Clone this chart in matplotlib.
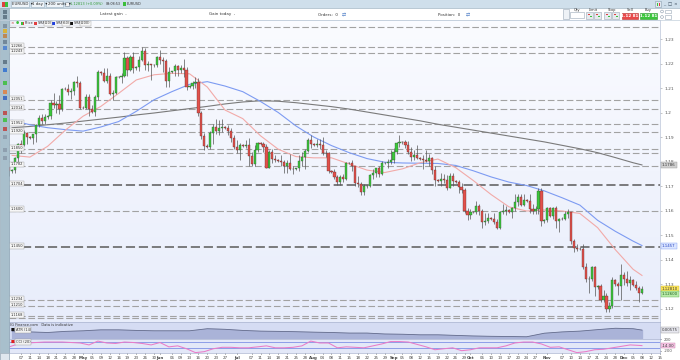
import numpy as np
import pandas as pd
import matplotlib
matplotlib.use("Agg")
import matplotlib.pyplot as plt
import matplotlib.transforms as mtransforms
from matplotlib.patches import Rectangle, Circle
from matplotlib.colors import LinearSegmentedColormap

plt.rcParams['font.family'] = ['DejaVu Sans']

W, H = 680, 360

# ---- EUR/USD daily candles (IG sessions Sun-Fri), 2 Apr - 8 Dec 2021 ----
opens = [1.1778,
         1.1761, 1.1765, 1.1813, 1.1873, 1.1869, 1.1915,
         1.1900, 1.1895, 1.1911, 1.1947, 1.1979, 1.1966,
         1.1983, 1.1985, 1.2037, 1.2032, 1.2036, 1.2013,
         1.2097, 1.2095, 1.2083, 1.2088, 1.2126, 1.2122,
         1.2020, 1.2018, 1.2062, 1.2014, 1.2004, 1.2065,
         1.2165, 1.2160, 1.2130, 1.2149, 1.2075, 1.2080,
         1.2145, 1.2143, 1.2150, 1.2224, 1.2175, 1.2227,
         1.2180, 1.2185, 1.2216, 1.2250, 1.2192, 1.2196,
         1.2193, 1.2195, 1.2227, 1.2213, 1.2209, 1.2127,
         1.2165, 1.2168, 1.2191, 1.2172, 1.2180, 1.2173,
         1.2105, 1.2108, 1.2121, 1.2124, 1.1998, 1.1906,
         1.1865, 1.1860, 1.1917, 1.1940, 1.1926, 1.1935,
         1.1940, 1.1938, 1.1925, 1.1895, 1.1858, 1.1848,
         1.1866, 1.1862, 1.1866, 1.1823, 1.1790, 1.1846,
         1.1875, 1.1872, 1.1860, 1.1775, 1.1837, 1.1812,
         1.1806, 1.1803, 1.1800, 1.1780, 1.1794, 1.1771,
         1.1770, 1.1772, 1.1801, 1.1818, 1.1843, 1.1888,
         1.1871, 1.1868, 1.1872, 1.1867, 1.1835, 1.1833,
         1.1761, 1.1758, 1.1737, 1.1718, 1.1738, 1.1728,
         1.1795, 1.1792, 1.1780, 1.1712, 1.1708, 1.1676,
         1.1698, 1.1700, 1.1745, 1.1755, 1.1772, 1.1750,
         1.1793, 1.1795, 1.1797, 1.1807, 1.1837, 1.1876,
         1.1880, 1.1878, 1.1869, 1.1838, 1.1819, 1.1826,
         1.1813, 1.1810, 1.1806, 1.1802, 1.1813, 1.1765,
         1.1726, 1.1722, 1.1727, 1.1724, 1.1690, 1.1741,
         1.1720, 1.1718, 1.1695, 1.1683, 1.1597, 1.1580,
         1.1595, 1.1592, 1.1620, 1.1598, 1.1553, 1.1556,
         1.1569, 1.1566, 1.1552, 1.1528, 1.1593, 1.1598,
         1.1601, 1.1595, 1.1609, 1.1634, 1.1654, 1.1623,
         1.1643, 1.1640, 1.1608, 1.1600, 1.1605, 1.1679,
         1.1558, 1.1560, 1.1609, 1.1579, 1.1611, 1.1556,
         1.1567, 1.1565, 1.1587, 1.1592, 1.1477, 1.1446,
         1.1444, 1.1442, 1.1368, 1.1320, 1.1321, 1.1370,
         1.1289, 1.1290, 1.1236, 1.1249, 1.1197, 1.1209,
         1.1317, 1.1298, 1.1292, 1.1337, 1.1320, 1.1303,
         1.1316, 1.1295, 1.1284, 1.1265]
highs = [1.1786,
         1.1770, 1.1820, 1.1877, 1.1887, 1.1927, 1.1920,
         1.1905, 1.1914, 1.1955, 1.1990, 1.1994, 1.1994,
         1.1990, 1.2050, 1.2080, 1.2048, 1.2070, 1.2100,
         1.2105, 1.2117, 1.2100, 1.2130, 1.2150, 1.2128,
         1.2025, 1.2075, 1.2075, 1.2030, 1.2070, 1.2173,
         1.2170, 1.2180, 1.2181, 1.2160, 1.2090, 1.2150,
         1.2150, 1.2160, 1.2245, 1.2230, 1.2236, 1.2245,
         1.2190, 1.2230, 1.2266, 1.2262, 1.2210, 1.2200,
         1.2200, 1.2230, 1.2254, 1.2225, 1.2218, 1.2185,
         1.2170, 1.2200, 1.2195, 1.2192, 1.2218, 1.2184,
         1.2112, 1.2130, 1.2144, 1.2140, 1.2005, 1.1915,
         1.1870, 1.1923, 1.1955, 1.1975, 1.1968, 1.1975,
         1.1945, 1.1951, 1.1935, 1.1910, 1.1887, 1.1877,
         1.1870, 1.1888, 1.1895, 1.1840, 1.1868, 1.1880,
         1.1880, 1.1880, 1.1870, 1.1848, 1.1850, 1.1825,
         1.1810, 1.1825, 1.1807, 1.1805, 1.1830, 1.1780,
         1.1775, 1.1825, 1.1840, 1.1850, 1.1895, 1.1909,
         1.1875, 1.1893, 1.1893, 1.1900, 1.1846, 1.1840,
         1.1765, 1.1770, 1.1745, 1.1745, 1.1750, 1.1800,
         1.1800, 1.1805, 1.1782, 1.1740, 1.1715, 1.1710,
         1.1705, 1.1750, 1.1770, 1.1775, 1.1780, 1.1802,
         1.1798, 1.1810, 1.1845, 1.1857, 1.1880, 1.1909,
         1.1885, 1.1886, 1.1882, 1.1858, 1.1845, 1.1867,
         1.1818, 1.1825, 1.1845, 1.1830, 1.1820, 1.1780,
         1.1730, 1.1755, 1.1750, 1.1745, 1.1752, 1.1752,
         1.1725, 1.1724, 1.1712, 1.1693, 1.1610, 1.1608,
         1.1600, 1.1640, 1.1625, 1.1605, 1.1590, 1.1588,
         1.1575, 1.1590, 1.1565, 1.1600, 1.1625, 1.1620,
         1.1605, 1.1615, 1.1668, 1.1666, 1.1667, 1.1666,
         1.1648, 1.1668, 1.1625, 1.1620, 1.1692, 1.1690,
         1.1565, 1.1616, 1.1613, 1.1615, 1.1617, 1.1570,
         1.1572, 1.1599, 1.1608, 1.1595, 1.1483, 1.1464,
         1.1450, 1.1464, 1.1386, 1.1332, 1.1373, 1.1374,
         1.1295, 1.1302, 1.1275, 1.1265, 1.1226, 1.1327,
         1.1320, 1.1307, 1.1383, 1.1351, 1.1353, 1.1334,
         1.1320, 1.1311, 1.1292, 1.1290]
lows = [1.1740,
        1.1755, 1.1755, 1.1795, 1.1835, 1.1864, 1.1870,
        1.1890, 1.1873, 1.1878, 1.1940, 1.1955, 1.1955,
        1.1975, 1.1975, 1.2020, 1.2000, 1.1995, 1.2008,
        1.2090, 1.2070, 1.2055, 1.2070, 1.2105, 1.2015,
        1.2015, 1.2015, 1.1985, 1.1998, 1.1986, 1.2052,
        1.2155, 1.2125, 1.2120, 1.2070, 1.2052, 1.2075,
        1.2140, 1.2120, 1.2145, 1.2150, 1.2170, 1.2160,
        1.2175, 1.2170, 1.2210, 1.2175, 1.2170, 1.2133,
        1.2185, 1.2185, 1.2200, 1.2165, 1.2103, 1.2105,
        1.2160, 1.2150, 1.2150, 1.2160, 1.2144, 1.2093,
        1.2100, 1.2095, 1.2100, 1.1985, 1.1892, 1.1847,
        1.1855, 1.1850, 1.1870, 1.1914, 1.1910, 1.1920,
        1.1932, 1.1908, 1.1878, 1.1850, 1.1835, 1.1807,
        1.1858, 1.1854, 1.1782, 1.1782, 1.1781, 1.1838,
        1.1868, 1.1838, 1.1772, 1.1772, 1.1795, 1.1797,
        1.1800, 1.1780, 1.1755, 1.1752, 1.1765, 1.1750,
        1.1765, 1.1760, 1.1783, 1.1770, 1.1840, 1.1854,
        1.1865, 1.1860, 1.1850, 1.1825, 1.1820, 1.1752,
        1.1755, 1.1730, 1.1706, 1.1705, 1.1715, 1.1725,
        1.1788, 1.1760, 1.1700, 1.1695, 1.1665, 1.1664,
        1.1692, 1.1695, 1.1730, 1.1735, 1.1735, 1.1745,
        1.1788, 1.1775, 1.1790, 1.1795, 1.1830, 1.1860,
        1.1872, 1.1855, 1.1830, 1.1802, 1.1805, 1.1810,
        1.1805, 1.1770, 1.1800, 1.1780, 1.1750, 1.1700,
        1.1715, 1.1700, 1.1714, 1.1685, 1.1690, 1.1700,
        1.1712, 1.1670, 1.1670, 1.1590, 1.1562, 1.1565,
        1.1588, 1.1585, 1.1580, 1.1530, 1.1540, 1.1550,
        1.1562, 1.1545, 1.1524, 1.1525, 1.1585, 1.1580,
        1.1590, 1.1570, 1.1600, 1.1620, 1.1618, 1.1620,
        1.1635, 1.1590, 1.1585, 1.1585, 1.1585, 1.1535,
        1.1550, 1.1555, 1.1575, 1.1565, 1.1530, 1.1513,
        1.1560, 1.1560, 1.1570, 1.1465, 1.1432, 1.1433,
        1.1438, 1.1362, 1.1309, 1.1264, 1.1313, 1.1250,
        1.1280, 1.1226, 1.1225, 1.1186, 1.1187, 1.1203,
        1.1290, 1.1256, 1.1235, 1.1297, 1.1292, 1.1275,
        1.1290, 1.1277, 1.1227, 1.1260]
closes = [1.1761,
          1.1765, 1.1813, 1.1873, 1.1869, 1.1915, 1.1900,
          1.1895, 1.1911, 1.1947, 1.1979, 1.1966, 1.1983,
          1.1985, 1.2037, 1.2032, 1.2036, 1.2013, 1.2097,
          1.2095, 1.2083, 1.2088, 1.2126, 1.2122, 1.2020,
          1.2018, 1.2062, 1.2014, 1.2004, 1.2065, 1.2165,
          1.2160, 1.2130, 1.2149, 1.2075, 1.2080, 1.2145,
          1.2143, 1.2150, 1.2224, 1.2175, 1.2227, 1.2180,
          1.2185, 1.2216, 1.2250, 1.2192, 1.2196, 1.2193,
          1.2195, 1.2227, 1.2213, 1.2209, 1.2127, 1.2165,
          1.2168, 1.2191, 1.2172, 1.2180, 1.2173, 1.2105,
          1.2108, 1.2121, 1.2124, 1.1998, 1.1906, 1.1865,
          1.1860, 1.1917, 1.1940, 1.1926, 1.1935, 1.1940,
          1.1938, 1.1925, 1.1895, 1.1858, 1.1848, 1.1866,
          1.1862, 1.1866, 1.1823, 1.1790, 1.1846, 1.1875,
          1.1872, 1.1860, 1.1775, 1.1837, 1.1812, 1.1806,
          1.1803, 1.1800, 1.1780, 1.1794, 1.1771, 1.1770,
          1.1772, 1.1801, 1.1818, 1.1843, 1.1888, 1.1871,
          1.1868, 1.1872, 1.1867, 1.1835, 1.1833, 1.1761,
          1.1758, 1.1737, 1.1718, 1.1738, 1.1728, 1.1795,
          1.1792, 1.1780, 1.1712, 1.1708, 1.1676, 1.1698,
          1.1700, 1.1745, 1.1755, 1.1772, 1.1750, 1.1793,
          1.1795, 1.1797, 1.1807, 1.1837, 1.1876, 1.1880,
          1.1878, 1.1869, 1.1838, 1.1819, 1.1826, 1.1813,
          1.1810, 1.1806, 1.1802, 1.1813, 1.1765, 1.1726,
          1.1722, 1.1727, 1.1724, 1.1690, 1.1741, 1.1720,
          1.1718, 1.1695, 1.1683, 1.1597, 1.1580, 1.1595,
          1.1592, 1.1620, 1.1598, 1.1553, 1.1556, 1.1569,
          1.1566, 1.1552, 1.1528, 1.1593, 1.1598, 1.1601,
          1.1595, 1.1609, 1.1634, 1.1654, 1.1623, 1.1643,
          1.1640, 1.1608, 1.1600, 1.1605, 1.1679, 1.1558,
          1.1560, 1.1609, 1.1579, 1.1611, 1.1556, 1.1567,
          1.1565, 1.1587, 1.1592, 1.1477, 1.1446, 1.1444,
          1.1442, 1.1368, 1.1320, 1.1321, 1.1370, 1.1289,
          1.1290, 1.1236, 1.1249, 1.1197, 1.1209, 1.1317,
          1.1298, 1.1292, 1.1337, 1.1320, 1.1303, 1.1316,
          1.1295, 1.1284, 1.1265, 1.1281]

# moving averages read at every Sunday + last bar
sma20 = [1.1825, 1.1818, 1.1862, 1.1928, 1.1985, 1.2025, 1.2078, 1.2133, 1.2154, 1.2160,
         1.2158, 1.2104, 1.2010, 1.1975, 1.1905, 1.1850, 1.1820, 1.1815, 1.1815, 1.1790,
         1.1765, 1.1755, 1.1770, 1.1795, 1.1810, 1.1775, 1.1722, 1.1665, 1.1615, 1.1598,
         1.1602, 1.1598, 1.1588, 1.1530, 1.1440, 1.1360, 1.1335]
sma50 = [1.1968, 1.1950, 1.1938, 1.1930, 1.1924, 1.1941, 1.1963, 1.2005, 1.2052, 1.2085,
         1.2115, 1.2126, 1.2108, 1.2085, 1.2045, 1.2000, 1.1945, 1.1900, 1.1865, 1.1836,
         1.1812, 1.1797, 1.1794, 1.1793, 1.1792, 1.1784, 1.1762, 1.1737, 1.1716, 1.1702,
         1.1680, 1.1652, 1.1622, 1.1560, 1.1515, 1.1475, 1.1457]
sma200 = [1.1938, 1.1943, 1.1950, 1.1957, 1.1965, 1.1973, 1.1981, 1.1990, 1.1998, 1.2007,
          1.2016, 1.2025, 1.2035, 1.2043, 1.2048, 1.2046, 1.2040, 1.2032, 1.2024, 1.2014,
          1.2002, 1.1990, 1.1978, 1.1966, 1.1952, 1.1940, 1.1928, 1.1916, 1.1904, 1.1892,
          1.1880, 1.1866, 1.1852, 1.1836, 1.1816, 1.1795, 1.1786]
atr14 = [0.00553, 0.00531, 0.00517, 0.00544, 0.00558, 0.00581, 0.00581, 0.00567, 0.00558, 0.00558,
         0.00558, 0.00608, 0.00594, 0.00567, 0.00550, 0.00544, 0.00536, 0.00525, 0.00517, 0.00503,
         0.00503, 0.00481, 0.00475, 0.00461, 0.00461, 0.00447, 0.00433, 0.00425, 0.00420, 0.00414,
         0.00500, 0.00531, 0.00550, 0.00586, 0.00619, 0.00608, 0.00575]
# CCI(20) read every third bar + last bar
cci20 = [-57, 43, 77, 93, 110, 110, 110, 93, 77, 10,
         143, 77, 60, 110, 93, 60, 10, 93, -57, -23,
         -123, -257, -223, -123, -73, -73, -90, -90, -57, -23,
         -90, -90, -73, -23, 143, 77, 77, -90, -57, -73,
         -90, -23, 43, 127, 127, 110, 27, -57, -157, -123,
         -90, -190, -157, -90, -90, -90, -23, 77, 110, 110,
         43, -73, -57, -157, -257, -223, -157, -140, -90, -40,
         10, -7, -14]

# support / resistance levels drawn on the chart
levels = [1.2349, 1.2266, 1.2243, 1.2051, 1.2014, 1.1952, 1.1920, 1.1850, 1.1836,
          1.1782, 1.1704, 1.1600, 1.1450, 1.1234, 1.1210, 1.1168, 1.1160]
labelledLevels = [1.2266, 1.2243, 1.2051, 1.2014, 1.1952, 1.1920, 1.1850, 1.1782,
                  1.1704, 1.1600, 1.1450, 1.1234, 1.1210, 1.1168]
darkLevels = [1.1704, 1.1450]
priceTicks = [1.12, 1.13, 1.14, 1.15, 1.16, 1.17, 1.18, 1.19, 1.20, 1.21, 1.22, 1.23]

# ---- positions ----
allDays = pd.date_range("2021-04-02", "2021-12-15", freq="D")
barDates = allDays[allDays.dayofweek != 5]
barX = np.arange(len(closes))
maDates = pd.date_range("2021-04-04", "2021-12-05", freq="7D").append(pd.DatetimeIndex(["2021-12-08"]))
maX = barDates.get_indexer(maDates)
cciX = np.array(list(range(0, len(closes) - 1, 3)) + [len(closes) - 1])

XLIM = (-0.06, 220.1)

fig = plt.figure(figsize=(W / 100, H / 100), dpi=100)
fig.patch.set_facecolor('white')


def px_axes(x0, y0, x1, y1):
    return fig.add_axes([x0 / W, 1 - y1 / H, (x1 - x0) / W, (y1 - y0) / H])


# background gradient of the price pane
bg = px_axes(9, 20, 660, 322)
bgmap = LinearSegmentedColormap.from_list('bg', ['#fafbff', '#e8edfb'])
bg.imshow(np.linspace(0, 1, 64).reshape(-1, 1), cmap=bgmap, aspect='auto', extent=[0, 1, 0, 1])
bg.axis('off')

# ---- price pane ----
ax = px_axes(9, 20, 660, 322)
ax.patch.set_alpha(0)
ax.set_xlim(*XLIM)
ax.set_ylim(1.11449, 1.23776)

for lv in levels:
    if lv in darkLevels:
        ax.axhline(lv, color='#5a5a5a', lw=1.1, ls=(0, (6, 2.5)), zorder=1)
    else:
        ax.axhline(lv, color='#a2a2a2', lw=0.8, ls=(0, (6, 2.5)), zorder=1)

ax.plot(maX, sma200, color='#7a7a7a', lw=0.8, zorder=2)
ax.plot(maX, sma50, color='#7d9bf2', lw=0.8, zorder=2)
ax.plot(maX, sma20, color='#f2aaa8', lw=0.8, zorder=2)

o = np.array(opens)
c = np.array(closes)
up = c >= o
ax.vlines(barX, lows, highs, color='#555555', lw=0.5, zorder=3)
bodyH = np.maximum(np.abs(c - o), 0.00008)
ax.bar(barX[up], bodyH[up], bottom=np.minimum(o, c)[up], width=0.74,
       color='#3cc63c', edgecolor='#2f4f2f', linewidth=0.25, zorder=4)
ax.bar(barX[~up], bodyH[~up], bottom=np.minimum(o, c)[~up], width=0.74,
       color='#e2514b', edgecolor='#5a2a2a', linewidth=0.25, zorder=4)

ax.yaxis.tick_right()
ax.set_yticks(priceTicks)
ax.set_yticklabels(['%g' % v for v in priceTicks])
ax.tick_params(axis='y', labelsize=3.2, labelcolor='#555555', length=1.5, width=0.4,
               color='#999999', pad=1.5)
ax.set_xticks([])
for s in ax.spines.values():
    s.set_color('#b9c3d8')
    s.set_linewidth(0.5)

lblTrans = mtransforms.offset_copy(mtransforms.blended_transform_factory(ax.transAxes, ax.transData),
                                   fig=fig, y=1.5, units='dots')
for lv in labelledLevels:
    ax.text(0.002, lv, '%.4f' % lv, transform=lblTrans, fontsize=2.6, color='#333333',
            va='center', ha='left', zorder=6,
            bbox=dict(boxstyle='square,pad=0.25', fc='#f6f6f6', ec='#9a9a9a', lw=0.3))

rtrans = mtransforms.blended_transform_factory(ax.transAxes, ax.transData)
ax.text(1.003, sma200[-1], '%.4f' % sma200[-1], transform=rtrans, fontsize=2.8, color='#333333',
        va='center', ha='left', clip_on=False,
        bbox=dict(boxstyle='square,pad=0.25', fc='#d0d0d0', ec='#999999', lw=0.3))
ax.text(1.003, sma50[-1], '%.4f' % sma50[-1], transform=rtrans, fontsize=2.8, color='#2040c0',
        va='center', ha='left', clip_on=False,
        bbox=dict(boxstyle='square,pad=0.25', fc='#dbe5ff', ec='#7d9bf2', lw=0.3))
ax.text(1.003, closes[-1], '%.5f' % closes[-1], transform=rtrans, fontsize=2.8, color='#333333',
        va='center', ha='left', clip_on=False,
        bbox=dict(boxstyle='square,pad=0.25', fc='#ffe85c', ec='#c8b030', lw=0.3))
ax.text(1.003, lows[-1], '%.5f' % lows[-1], transform=rtrans, fontsize=2.8, color='#1f5f1f',
        va='center', ha='left', clip_on=False,
        bbox=dict(boxstyle='square,pad=0.25', fc='#b8eaa8', ec='#5fae4f', lw=0.3))

# ---- ATR pane ----
axA = px_axes(9, 322, 660, 339)
axA.set_facecolor('#d5dcf3')
axA.set_xlim(*XLIM)
axA.set_ylim(0.0036, 0.0077)
axA.fill_between(maX, atr14, 0.0036, color='#aab3d8', zorder=2)
axA.plot(maX, atr14, color='#646c8c', lw=0.6, zorder=3)
axA.set_xticks([])
axA.set_yticks([])
for s in axA.spines.values():
    s.set_color('#aab4d0')
    s.set_linewidth(0.5)
axA.text(0.002, 0.82, 'IG Finance.com   Data is indicative', transform=axA.transAxes,
         fontsize=2.6, color='#333333', va='center')
axA.text(0.002, 0.52, '■', transform=axA.transAxes, fontsize=3, color='#111111', va='center')
axA.text(0.010, 0.52, 'ATR (14)', transform=axA.transAxes, fontsize=2.6, color='#333333',
         va='center', bbox=dict(boxstyle='square,pad=0.2', fc='#f2f2f2', ec='#9a9a9a', lw=0.3))
atrT = mtransforms.blended_transform_factory(axA.transAxes, axA.transData)
axA.text(1.003, atr14[-1], '%.5f' % atr14[-1], transform=atrT, fontsize=2.8, color='#333333',
         va='center', ha='left', clip_on=False,
         bbox=dict(boxstyle='square,pad=0.25', fc='#e6e6ee', ec='#999999', lw=0.3))

# ---- CCI pane ----
axC = px_axes(9, 339, 660, 353)
axC.set_facecolor('#e3e8f8')
axC.set_xlim(*XLIM)
axC.set_ylim(-270, 215)
axC.axhline(100, color='#8d9de8', lw=0.7)
axC.axhline(-100, color='#8d9de8', lw=0.7)
axC.plot(cciX, cci20, color='#ea7cc8', lw=0.75)
axC.yaxis.tick_right()
axC.set_yticks([200, -200])
axC.set_yticklabels(['200', '-200'])
axC.tick_params(axis='y', labelsize=2.8, labelcolor='#555555', length=1, width=0.4, pad=1.5)
for s in axC.spines.values():
    s.set_color('#aab4d0')
    s.set_linewidth(0.5)
axC.text(0.002, 0.78, '■', transform=axC.transAxes, fontsize=3, color='#e02020', va='center')
axC.text(0.010, 0.78, 'CCI (20)', transform=axC.transAxes, fontsize=2.6, color='#333333',
         va='center', bbox=dict(boxstyle='square,pad=0.2', fc='#f2f2f2', ec='#9a9a9a', lw=0.3))
cciT = mtransforms.blended_transform_factory(axC.transAxes, axC.transData)
axC.text(1.003, cci20[-1], '%.2f' % cci20[-1], transform=cciT, fontsize=2.8, color='#333333',
         va='center', ha='left', clip_on=False,
         bbox=dict(boxstyle='square,pad=0.2', fc='#f7c8e6', ec='#c978a8', lw=0.3))

# date labels: Sundays and Wednesdays, month name on first session of a month
monthStart = [i for i in range(1, len(barDates)) if barDates[i].month != barDates[i - 1].month]
tickPos, tickLab = [], []
for i, d in enumerate(barDates):
    if i in monthStart:
        tickPos.append(i)
        tickLab.append(d.strftime('%b'))
    elif d.dayofweek in (2, 6) and i >= 3:
        if any(-1 <= i - m <= 2 for m in monthStart):
            continue
        tickPos.append(i)
        tickLab.append('%02d' % d.day)
axC.set_xticks(tickPos)
axC.set_xticklabels(tickLab)
axC.tick_params(axis='x', labelsize=2.9, labelcolor='#444444', length=1, width=0.4, pad=1.5)
for t, lab in zip(axC.get_xticklabels(), tickLab):
    if not lab.isdigit():
        t.set_fontweight('bold')

# ---- window chrome ----
ui = px_axes(0, 0, W, H)
ui.set_xlim(0, W)
ui.set_ylim(H, 0)
ui.axis('off')
ui.patch.set_alpha(0)
ui.set_zorder(10)

ui.add_patch(Rectangle((0, 0), W, 8, fc='#cfdfeb', ec='none'))
ui.plot([0, W], [8, 8], color='#9db2c2', lw=0.5)
ui.add_patch(Rectangle((2, 1.5), 3, 5, fc='#e04040', ec='none'))
ui.add_patch(Rectangle((5, 1.5), 3, 5, fc='#3cbf3c', ec='none'))
for x0, x1, txt in [(11, 29, 'EURUSD  ▾'), (31, 44, '1 day  ▾'), (46, 63, '200 units  ▾')]:
    ui.add_patch(Rectangle((x0, 1.2), x1 - x0, 5.8, fc='#eef4f9', ec='#9db3c3', lw=0.4))
    ui.text(x0 + 1.5, 4.2, txt, fontsize=2.8, color='#222222', va='center')
ui.add_patch(Rectangle((65, 2), 4, 4, fc='#f5f5f5', ec='#7f8f9f', lw=0.4))
ui.text(70.5, 4.2, '1.12813 (+0.09%)', fontsize=2.5, color='#2f9a2f', va='center')
ui.text(106, 4.2, '09:08:53', fontsize=2.4, color='#333333', va='center')
ui.add_patch(Rectangle((123, 2.2), 3, 3.6, fc='#3cbf3c', ec='none'))
ui.text(127, 4.2, 'EURUSD', fontsize=2.5, color='#333333', va='center')
ui.add_patch(Rectangle((655, 1), 6, 6, fc='#e0e8ef', ec='#8aa0b0', lw=0.4))
ui.add_patch(Rectangle((656.5, 2.5), 1.5, 3, fc='#3cbf3c', ec='none'))
ui.add_patch(Rectangle((658.5, 2.5), 1.5, 3, fc='#e04040', ec='none'))
for k, g in enumerate(['_', '□', '×']):
    ui.text(664 + 5.5 * k, 4.2, g, fontsize=3.2, color='#334455', va='center', ha='center')

# header row with account info and deal ticket
ui.plot([0, W], [20, 20], color='#c4d0dc', lw=0.5)
ui.text(100, 14.5, 'Latest gain  -', fontsize=2.9, color='#333333', va='center')
ui.text(209, 14.5, 'Gain today  -', fontsize=2.9, color='#333333', va='center')
ui.text(318, 14.5, 'Orders:  0', fontsize=2.9, color='#333333', va='center')
ui.text(342, 14.5, '⇄', fontsize=3.5, color='#3a6fc0', va='center')
ui.text(438, 14.5, 'Position:  0', fontsize=2.9, color='#333333', va='center')
ui.text(466, 14.5, '⇄', fontsize=3.5, color='#3a6fc0', va='center')
ui.add_patch(Rectangle((563, 9), 6, 10, fc='#eef2f6', ec='#9aa8b6', lw=0.4))
ui.text(577, 10.3, 'Qty', fontsize=2.6, color='#333333', va='center', ha='center')
ui.add_patch(Rectangle((570, 12), 14, 6, fc='white', ec='#9aa8b6', lw=0.4))
ui.text(593.5, 10.3, 'Limit', fontsize=2.6, color='#333333', va='center', ha='center')
ui.text(611.5, 10.3, 'Stop', fontsize=2.6, color='#333333', va='center', ha='center')
for bx in [586, 594, 604, 612]:
    ui.add_patch(Rectangle((bx, 12), 7, 6.5, fc='#e6eaee', ec='#9aa8b6', lw=0.4))
    ui.add_patch(Rectangle((bx + 1.5, 13.5), 2, 1.5, fc='#e04040', ec='none'))
    ui.add_patch(Rectangle((bx + 3.5, 15.5), 2, 1.5, fc='#3cbf3c', ec='none'))
ui.text(630, 10.3, 'Sell', fontsize=2.6, color='#333333', va='center', ha='center')
ui.text(648.5, 10.3, 'Buy', fontsize=2.6, color='#333333', va='center', ha='center')
ui.add_patch(Rectangle((622, 12.5), 16, 6.5, fc='#e8494a', ec='#b83030', lw=0.4))
ui.add_patch(Rectangle((640, 12.5), 17, 6.5, fc='#3cc63c', ec='#2c962c', lw=0.4))
ui.text(630, 15.8, '1.12 81', fontsize=3.0, color='white', va='center', ha='center', fontweight='bold')
ui.text(648.5, 15.8, '1.12 81', fontsize=3.0, color='white', va='center', ha='center', fontweight='bold')
for cy in [11.5, 17]:
    ui.add_patch(Circle((662, cy), 1.4, fc='white', ec='#8899aa', lw=0.4))
    ui.add_patch(Rectangle((665, cy - 1.8), 6, 3.6, fc='white', ec='#9aa8b6', lw=0.4))

# legend strip of the price pane
ui.add_patch(Rectangle((10, 21), 80, 4.6, fc='#f3f5fb', ec='#c6cbd8', lw=0.3))
ui.text(12, 23.3, '×', fontsize=3, color='#c03030', va='center', ha='center')
ui.text(17, 23.3, '●', fontsize=2.6, color='#3cbf3c', va='center', ha='center')
ui.add_patch(Rectangle((21, 21.8), 1.5, 3, fc='#3cbf3c', ec='none'))
ui.add_patch(Rectangle((22.5, 21.8), 1.5, 3, fc='#e04040', ec='none'))
ui.text(24.6, 23.3, 'Price', fontsize=2.6, color='#333333', va='center')
legItems = [(34, '#e04040', 'SMA', '(20)'), (52, '#2040e0', 'SMA', '(50)'), (70, '#111111', 'SMA', '(200)')]
for lx, col, a, b in legItems:
    ui.add_patch(Rectangle((lx, 21.8), 3, 3, fc=col, ec='none'))
    ui.text(lx + 3.8, 23.3, a, fontsize=2.6, color='#333333', va='center')
    ui.text(lx + 10.5, 23.3, b, fontsize=2.5, color='#333333', va='center',
            bbox=dict(boxstyle='square,pad=0.15', fc='#f8f8f8', ec='#a0a0a0', lw=0.3))

# left drawing toolbar
ui.add_patch(Rectangle((0, 8), 9, H - 8, fc='#a8bfcc', ec='#8aa2b1', lw=0.4))
toolIcons = [(12, '#5a6f80'), (17, '#5a6f80'), (26, '#7a8a9a'), (31, '#e0b020'),
             (36, '#c08040'), (42, '#6a7f90'), (48, '#4a7fd0'), (62, '#5a6f80'),
             (70, '#2f6fd0'), (83, '#3cbf3c'), (92, '#e08040'), (98, '#3060c0'),
             (113, '#c04040'), (120, '#3cbf3c'), (129, '#c04040'), (137, '#8a9aaa'),
             (150, '#8a9aaa'), (158, '#8a9aaa')]
for iy, col in toolIcons:
    ui.add_patch(Rectangle((2.5, iy - 1.8), 4, 3.6, fc=col, ec='none', alpha=0.85))
ui.add_patch(Rectangle((0, 353), 9, 7, fc='#dfe7ee', ec='#9aa8b6', lw=0.4))

fig.savefig('out.png', dpi=100, facecolor='white')
